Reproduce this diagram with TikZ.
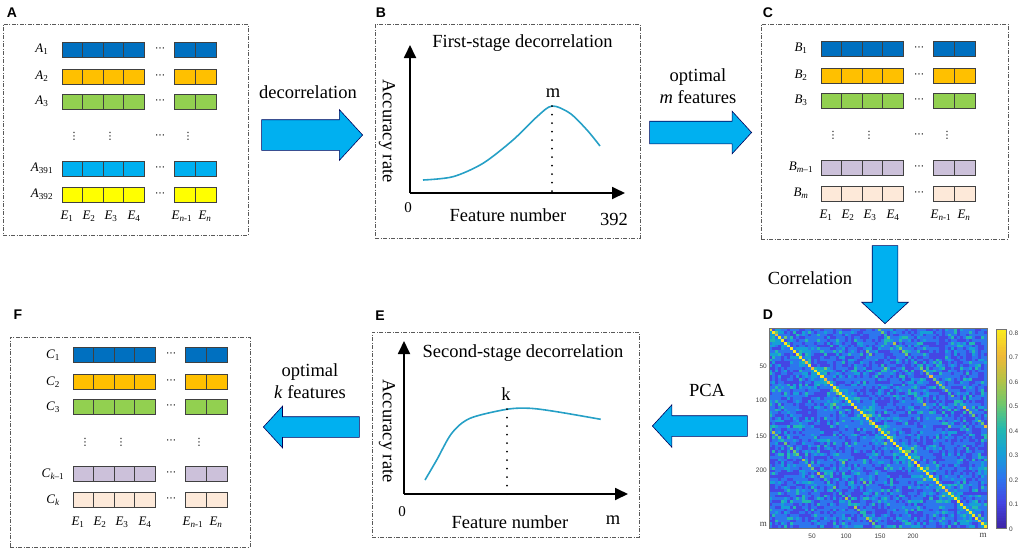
\documentclass[tikz,border=0pt]{standalone}
\usepackage{fontspec}
\setmainfont{Liberation Serif}
\setsansfont{Liberation Sans}
\newfontfamily\symfont{DejaVu Sans}
\usepackage{tikz}
\usepackage{xcolor}
\usetikzlibrary{arrows.meta,calc,positioning,shapes.arrows}

\definecolor{rowblue}{HTML}{0070C0}
\definecolor{roworange}{HTML}{FFC000}
\definecolor{rowgreen}{HTML}{92D050}
\definecolor{rowcyan}{HTML}{00B0F0}
\definecolor{rowyellow}{HTML}{FFFF00}
\definecolor{rowlilac}{HTML}{CCC1DA}
\definecolor{rowpeach}{HTML}{FDE9D9}
\definecolor{arrowblue}{HTML}{00B0F0}
\definecolor{plotblue}{RGB}{38,160,198}
% parula-like steps for the heat map
\definecolor{pc0}{RGB}{62,38,168}
\definecolor{pc1}{RGB}{68,70,228}
\definecolor{pc2}{RGB}{45,118,238}
\definecolor{pc3}{RGB}{22,160,215}
\definecolor{pc4}{RGB}{35,185,175}
\definecolor{pc5}{RGB}{110,200,110}
\definecolor{pc6}{RGB}{180,195,70}
\definecolor{pc7}{RGB}{240,185,55}
\definecolor{pc8}{RGB}{250,232,30}

\tikzset{%
	panel/.style      = {draw=black!65, dash pattern=on 4pt off 1.5pt on 1pt off 1.5pt, line width=0.7pt, inner sep=0pt}, % dashed frame
	letter/.style     = {font=\sffamily\bfseries\fontsize{14}{14}\selectfont, inner sep=0pt}, % panel letter
	fcell/.style      = {draw=black!75, line width=0.7pt}, % one feature cell
	rowlab/.style     = {font=\fontsize{13}{13}\selectfont, inner sep=0pt},
	dotlab/.style     = {font=\symfont\fontsize{10}{10}\selectfont, inner sep=0pt},
	txt/.style        = {font=\fontsize{18.5}{22}\selectfont, inner sep=0pt},
	blockarrow/.style = {single arrow, draw=blue!35!black, fill=arrowblue, line width=0.6pt, inner xsep=0pt, single arrow tip angle=95, anchor=tip}, % fat arrow
	axisarrow/.style  = {line width=1.8pt, -{Triangle[length=13pt,width=12pt]}},
	plotline/.style   = {line width=1.6pt, color=plotblue},
	peak/.style       = {line width=2pt, line cap=round, dash pattern=on 0pt off 8.5pt},
	ticklab/.style    = {font=\sffamily\fontsize{6.5}{7}\selectfont, text=black!75, inner sep=1pt},
}

% feature matrix: x0, y0, letter, 4th/5th subscripts, 4th/5th colours
\newcommand{\featmatrix}[7]{%
	\foreach \dy/\c/\s [count=\r] in {0/rowblue/1, 27/roworange/2, 52/rowgreen/3, 119/#6/{#4}, 145/#7/{#5}}{
		\node[rowlab] (#3row\r) at ({#1-20},{#2+\dy}) {\textit{#3}\textsubscript{\s}};
		\foreach \k in {0,...,3}
			\draw[fcell, fill=\c] ({#1+20.5*\k},{#2+\dy-7.5}) rectangle ++(20.5,15);
		\foreach \k in {0,1}
			\draw[fcell, fill=\c] ({#1+112+21*\k},{#2+\dy-7.5}) rectangle ++(21,15);
		\node[dotlab] (#3dots\r) at ({#1+98},{#2+\dy}) {⋯};
	}
	\node[dotlab] (#3vd1) at ({#1+12},{#2+87}) {⋮};
	\node[dotlab] (#3vd2) at ({#1+48},{#2+87}) {⋮};
	\node[dotlab] (#3hd) at ({#1+98},{#2+87}) {⋯};
	\node[dotlab] (#3vd3) at ({#1+126},{#2+87}) {⋮};
	\foreach \ex/\es [count=\r] in {5/1, 27/2, 49/3, 72/4, 120/{\textit{n}-1}, 143/{\textit{n}}}
		\node[rowlab] (#3col\r) at ({#1+\ex},{#2+167}) {\textit{E}\textsubscript{\es}};
}

\begin{document}
\begin{tikzpicture}[x=1pt, y=-1pt]
	\useasboundingbox (0,0) rectangle (1021,550);

	% A
	\node[letter] (tA) at (12,13) {A};
	\node[panel, minimum width=245pt, minimum height=211pt] (pA) at (125.5,129.5) {};
	\featmatrix{62}{49.5}{A}{391}{392}{rowcyan}{rowyellow}

	% B
	\node[letter] (tB) at (381,13) {B};
	\node[panel, minimum width=265pt, minimum height=214pt] (pB) at (507.5,131) {};
	\draw[axisarrow] (410,193) -- (410,45);
	\draw[axisarrow] (410,193) -- (625,193);
	\draw[plotline] plot[smooth] coordinates {(423,180) (453,176.7) (483,163.3) (513,140) (537,116.7) (552,106) (570,113.3) (587,130) (600,146)};
	\draw[peak] (552,106) -- (552,193);
	\node[txt] (hB) at (522.5,43) {First-stage decorrelation};
	\node[txt] (mB) at (553,93) {m};
	\node[txt, rotate=-90] (yB) at (387,131) {Accuracy rate};
	\node[txt, font=\fontsize{15}{15}\selectfont] (zB) at (408,208) {0};
	\node[txt] (xB) at (508,215) {Feature number};
	\node[txt] (nB) at (614,219) {392};

	% C
	\node[letter] (tC) at (768,13) {C};
	\node[panel, minimum width=247pt, minimum height=215pt] (pC) at (884.5,131.5) {};
	\featmatrix{821}{48.5}{B}{\textit{m}--1}{\textit{m}}{rowlilac}{rowpeach}

	% D
	\node[letter] (tD) at (768,315) {D};
	\node[inner sep=0pt, minimum width=218pt, minimum height=200pt] (pD) at (878,428) {};
	\pgfmathsetseed{11}
	\foreach \i in {0,...,71}{
		\foreach \j in {0,...,71}{
			\pgfmathtruncatemacro\dd{abs(\i-\j)}
			\pgfmathtruncatemacro\cc{min(8,round(10*(0.08+0.17*rnd+0.16*(rnd>0.82)+(0.5+0.2*rnd)*(\dd==0)+(0.15+0.25*rnd)*(\dd==36)+0.22*(\dd==24)*rnd+0.15*(int(\i/7)==int(\j/7))*rnd)))}
			\fill[pc\cc] ({769+3.0278*\j},{328+2.7778*\i}) rectangle ++(3.25,3);
		}
	}
	\draw[black!55, line width=0.4pt] (pD.north west) rectangle (pD.south east);
	\foreach \t/\p [count=\r] in {50/366, 100/400, 150/436, 200/470}
		\node[ticklab, anchor=east] (yl\r) at (768,\p) {\t};
	\foreach \t/\p [count=\r] in {50/812, 100/846, 150/880, 200/913}
		\node[ticklab] (xl\r) at (\p,536) {\t};
	\node[ticklab, font=\fontsize{9}{9}\selectfont, anchor=east] (ylm) at (768,524) {m};
	\node[ticklab, font=\fontsize{9}{9}\selectfont] (xlm) at (983,535) {m};
	% colour bar
	\node[inner sep=0pt, minimum width=10pt, minimum height=199pt] (cbar) at (1001,428.5) {};
	\fill[pc8] (996,329) rectangle (1006,333);
	\foreach \r in {0,...,7}{
		\pgfmathtruncatemacro\rn{\r+1}
		\foreach \p in {0,10,...,90}
			\fill[pc\rn!\p!pc\r] (996,{528-24.4*(\r+\p/100)}) rectangle (1006,{528-24.4*(\r+\p/100+0.11)});
	}
	\draw[black!55, line width=0.4pt] (cbar.south west) rectangle (cbar.north east);
	\foreach \v [count=\r from 0] in {0,0.1,0.2,0.3,0.4,0.5,0.6,0.7,0.8}
		\node[ticklab, anchor=west] (cb\r) at (1008,{529-24.5*\r}) {\v};

	% E
	\node[letter] (tE) at (380,316) {E};
	\node[panel, minimum width=267pt, minimum height=205pt] (pE) at (505.5,434.5) {};
	\draw[axisarrow] (404,494) -- (404,341);
	\draw[axisarrow] (404,494) -- (628,494);
	\draw[plotline] plot[smooth] coordinates {(425,480) (436.7,460) (451.7,433.3) (470,418.3) (506.7,409.3) (530,408.3) (556.7,411.7) (600.7,419.3)};
	\draw[peak] (507,409) -- (507,494);
	\node[txt] (hE) at (523,353) {Second-stage decorrelation};
	\node[txt] (kE) at (506,394) {k};
	\node[txt, rotate=-90] (yE) at (387,431) {Accuracy rate};
	\node[txt, font=\fontsize{15}{15}\selectfont] (zE) at (402,512) {0};
	\node[txt] (xE) at (510,522) {Feature number};
	\node[txt] (mE) at (613,520) {m};

	% F
	\node[letter] (tF) at (18,315) {F};
	\node[panel, minimum width=240pt, minimum height=210pt] (pF) at (130,442) {};
	\featmatrix{73}{355}{C}{\textit{k}--1}{\textit{k}}{rowlilac}{rowpeach}

	% block arrows between panels
	\node[blockarrow, minimum height=101pt, inner ysep=15pt, single arrow head extend=10pt] (aAB) at (363,135) {};
	\node[blockarrow, minimum height=102pt, inner ysep=11pt, single arrow head extend=10pt] (aBC) at (752,132.5) {};
	\node[blockarrow, minimum height=78pt, inner ysep=12.5pt, single arrow head extend=10.5pt, rotate=-90] (aCD) at (885,324) {};
	\node[blockarrow, minimum height=95pt, inner ysep=10pt, single arrow head extend=11pt, rotate=180] (aDE) at (652,426) {};
	\node[blockarrow, minimum height=96pt, inner ysep=10pt, single arrow head extend=10.5pt, rotate=180] (aEF) at (263,427) {};
	\node[txt] (lAB) at (308,92) {decorrelation};
	\node[txt, align=center] (lBC) at (698,86) {optimal\\\textit{m} features};
	\node[txt] (lCD) at (810,278) {Correlation};
	\node[txt] (lDE) at (707,390) {PCA};
	\node[txt, align=center] (lEF) at (310,381) {optimal\\\textit{k} features};
\end{tikzpicture}
\end{document}
